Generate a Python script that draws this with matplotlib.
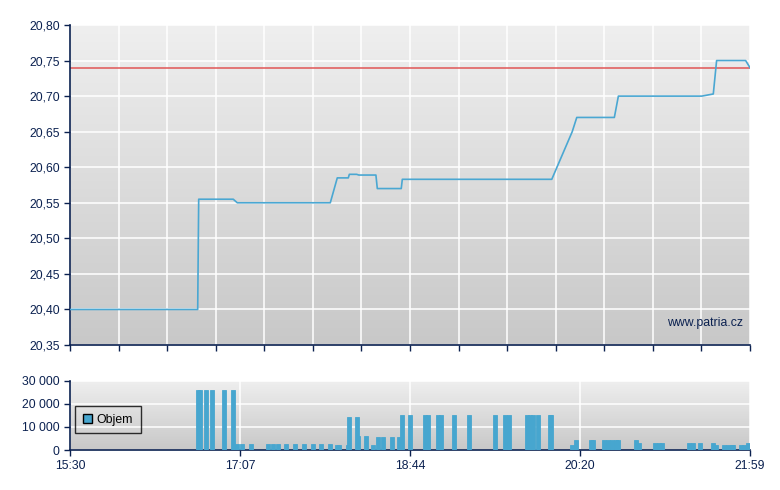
import matplotlib
matplotlib.use("Agg")
import matplotlib.pyplot as plt
import numpy as np
from matplotlib.colors import LinearSegmentedColormap
from matplotlib.patches import Patch

plt.rcParams['font.family'] = ['Liberation Sans', 'DejaVu Sans']

# ---- data (minutes after 15:30) ----
price_times = [0, 73.05, 73.62, 93.4, 95.7, 148.9, 152.9, 159.2, 159.8, 164.0, 165.2,
               175.0, 175.8, 189.5, 190.1, 275.6, 287.3, 289.9, 311.4, 313.7, 361.4,
               368.0, 369.9, 386.5, 389.0]
price_values = [20.40, 20.40, 20.555, 20.555, 20.55, 20.55, 20.585, 20.585, 20.59, 20.59,
                20.589, 20.589, 20.57, 20.57, 20.583, 20.583, 20.65, 20.67, 20.67, 20.70,
                20.70, 20.703, 20.75, 20.75, 20.74]
ref_price = 20.74

vol_times = [72.08, 73.22, 76.66, 80.09, 86.95, 92.10, 94.39, 97.25, 102.40, 112.12,
             114.98, 117.84, 122.42, 127.57, 132.72, 137.87, 142.44, 147.59, 151.60, 152.74,
             157.89, 158.46, 163.04, 163.61, 168.19, 172.19, 175.05, 177.91, 183.06, 187.06,
             188.78, 193.36, 201.94, 203.65, 209.37, 211.09, 218.53, 227.11, 241.98, 247.70,
             249.99, 260.29, 262.00, 263.72, 266.58, 273.44, 274.02, 286.03, 288.32, 296.90,
             298.04, 304.34, 306.62, 308.91, 311.20, 312.34, 322.64, 324.36, 333.51, 335.80,
             337.52, 352.96, 355.25, 359.25, 366.69, 368.41, 372.98, 375.27, 377.56, 378.13,
             382.71, 384.42, 386.71]
vol_values = [26000, 26000, 26000, 26000, 26000, 26000, 2600, 2600, 2600, 2600,
              2600, 2600, 2600, 2600, 2600, 2600, 2600, 2600, 2200, 2200,
              2200, 14300, 14300, 6000, 6000, 2200, 5600, 5600, 5600, 5600,
              15100, 15100, 15100, 15100, 15100, 15100, 15100, 15100, 15100, 15100,
              15100, 15100, 15100, 15100, 15100, 15100, 15100, 2200, 4300, 4300,
              4300, 4300, 4300, 4300, 4300, 4300, 4300, 3000, 3000, 3000,
              3000, 3000, 3000, 3000, 3000, 2200, 2200, 2200, 2200, 2200,
              2200, 2200, 3000]

price_ticks = [20.35, 20.40, 20.45, 20.50, 20.55, 20.60, 20.65, 20.70, 20.75, 20.80]
vol_ticks = [0, 10000, 20000, 30000]
vol_tick_labels = ['0', '10 000', '20 000', '30 000']
time_tick_labels = ['15:30', '17:07', '18:44', '20:20', '21:59']
session_len = 389.0

NAVY = '#0b2150'
LINE = '#4aa7d2'
BAR = '#47a6cf'
RED = '#e05555'

grad = LinearSegmentedColormap.from_list('g', ['#c8c8c8', '#efefef'])

fig = plt.figure(figsize=(7.8, 4.9), dpi=100)
fig.patch.set_facecolor('white')

def style(ax):
    ax.imshow(np.linspace(0, 1, 256).reshape(-1, 1)[::-1], cmap=grad, aspect='auto',
              extent=[0, 1, 0, 1], transform=ax.transAxes, zorder=0)
    for s in ['top', 'right']:
        ax.spines[s].set_visible(False)
    for s in ['left', 'bottom']:
        ax.spines[s].set_color(NAVY)
        ax.spines[s].set_linewidth(1.2)
    ax.tick_params(colors=NAVY, labelcolor=NAVY, labelsize=8.8, length=4, width=1)
    ax.set_axisbelow(True)

# ---- price chart ----
ax = fig.add_axes([70/780, 1-345/490, 680/780, 320/490])
style(ax)
ax.plot(price_times, price_values, color=LINE, lw=1.2, zorder=3)
ax.axhline(ref_price, color=RED, lw=1.1, zorder=2)
ax.set_xlim(0, session_len)
ax.set_ylim(price_ticks[0], price_ticks[-1])
ax.set_yticks(price_ticks)
ax.set_yticklabels([f"{v:.2f}".replace('.', ',') for v in price_ticks])
ax.set_xticks(np.linspace(0, session_len, 15))
ax.set_xticklabels([])
ax.grid(True, color='white', lw=1.1)
ax.text(0.99, 0.07, 'www.patria.cz', transform=ax.transAxes, ha='right', va='center',
        color=NAVY, fontsize=8.8, zorder=4)

# ---- volume chart ----
av = fig.add_axes([70/780, 1-450/490, 680/780, 69.3/490])
style(av)
av.bar(vol_times, vol_values, width=2.3, align='edge', color=BAR, edgecolor=BAR,
       lw=0.6, zorder=3)
av.set_xlim(0, session_len)
av.set_ylim(0, 30000)
av.set_yticks(vol_ticks)
av.set_yticklabels(vol_tick_labels)
av.set_xticks(np.linspace(0, session_len, 5))
av.set_xticklabels(time_tick_labels)
av.grid(True, color='white', lw=1.1)
leg = av.legend(handles=[Patch(facecolor=BAR, edgecolor='black', lw=1, label='Objem')],
                loc='center left', bbox_to_anchor=(0.0074, 0.44), borderaxespad=0,
                frameon=True, fancybox=False, fontsize=8.8, handlelength=0.7,
                handleheight=0.7, handletextpad=0.4, borderpad=0.65, labelcolor='black')
leg.get_frame().set_edgecolor('black')
leg.get_frame().set_facecolor('none')
leg.get_frame().set_linewidth(1)

fig.savefig('out.png', dpi=100)
